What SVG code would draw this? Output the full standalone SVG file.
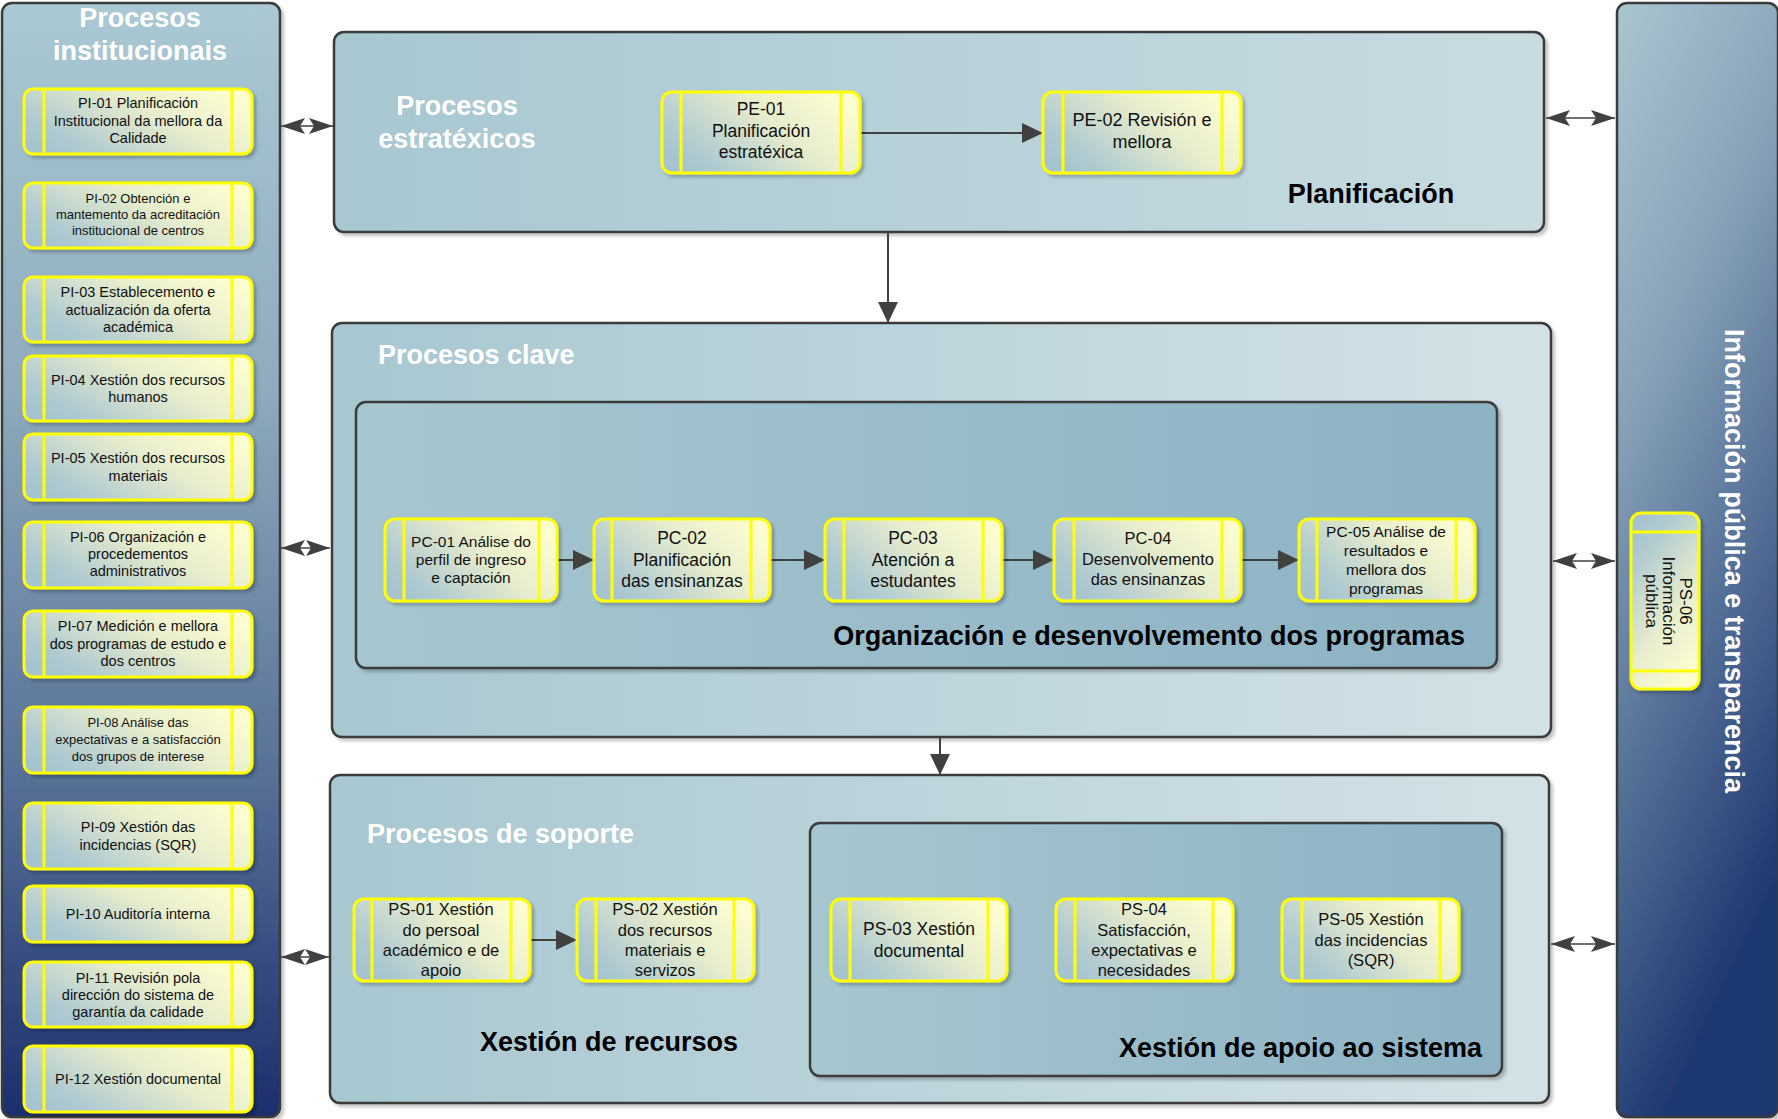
<svg xmlns="http://www.w3.org/2000/svg" width="1778" height="1119" viewBox="0 0 1778 1119">
<defs>
<linearGradient id="gSide" x1="0" y1="0" x2="0" y2="1">
<stop offset="0" stop-color="#abc9d4"/><stop offset="0.35" stop-color="#8eaabc"/><stop offset="0.7" stop-color="#566f96"/><stop offset="1" stop-color="#1c2e6c"/>
</linearGradient>
<linearGradient id="gSideR" x1="0" y1="0" x2="0.3" y2="1">
<stop offset="0" stop-color="#aac6d1"/><stop offset="0.35" stop-color="#88a3b8"/><stop offset="0.7" stop-color="#4f6a93"/><stop offset="1" stop-color="#1e376f"/>
</linearGradient>
<linearGradient id="gBox" x1="0" y1="0" x2="1" y2="0">
<stop offset="0" stop-color="#a8c7d1"/><stop offset="1" stop-color="#c8dbe1"/>
</linearGradient>
<linearGradient id="gBoxL" x1="0" y1="0" x2="1" y2="0">
<stop offset="0" stop-color="#a8c7d1"/><stop offset="1" stop-color="#d3e2e7"/>
</linearGradient>
<linearGradient id="gInner" x1="0" y1="0" x2="1" y2="0">
<stop offset="0" stop-color="#a7c6d0"/><stop offset="1" stop-color="#8cb2c3"/>
</linearGradient>
<linearGradient id="gNode" x1="0" y1="0.75" x2="1" y2="0.25">
<stop offset="0" stop-color="#a6c4cf"/><stop offset="0.15" stop-color="#b0cad1"/><stop offset="0.6" stop-color="#e7edcd"/><stop offset="1" stop-color="#fdfdd0"/>
</linearGradient>
<linearGradient id="gNodeV" x1="0.25" y1="0" x2="0.75" y2="1">
<stop offset="0" stop-color="#a6c4cf"/><stop offset="0.15" stop-color="#b0cad1"/><stop offset="0.6" stop-color="#e7edcd"/><stop offset="1" stop-color="#fdfdd0"/>
</linearGradient>
<filter id="sh" x="-10%" y="-10%" width="130%" height="130%">
<feDropShadow dx="3" dy="3" stdDeviation="1.5" flood-color="#000" flood-opacity="0.22"/>
</filter>
<marker id="ah" markerUnits="userSpaceOnUse" markerWidth="22" markerHeight="20" refX="21" refY="10" orient="auto">
<path d="M0,0 L21,10 L0,20 z" fill="#404040"/>
</marker>
<marker id="dh" markerUnits="userSpaceOnUse" markerWidth="25" markerHeight="16" refX="24" refY="8" orient="auto-start-reverse">
<path d="M0,0 L24,8 L0,16 L5,8 z" fill="#404040"/>
</marker>
<style>
.panel{stroke:#3a3a3a;stroke-width:2.5;filter:url(#sh)}
.node rect{fill:url(#gNode);stroke:#ffff00;stroke-width:3;filter:url(#sh)}
.node line{stroke:#ffff00;stroke-width:3}
text{font-family:"Liberation Sans",Arial,sans-serif}
.nt{fill:#111;text-anchor:middle}
.wh{fill:#fff;font-weight:bold;font-size:27px}
.bk{fill:#000;font-weight:bold;font-size:27px}
.conn line{stroke:#404040;stroke-width:2}
.conn .d{stroke-width:1.6}
</style>
</defs>

<!-- containers -->
<g id="panel-institucionais">
<rect class="panel" x="2" y="3" width="278" height="1114" rx="10" fill="url(#gSide)"/>
<text class="wh" x="140" y="27" text-anchor="middle" font-size="26">Procesos</text>
<text class="wh" x="140" y="60" text-anchor="middle" font-size="26">institucionais</text>
</g>
<g id="panel-estratexicos">
<rect class="panel" x="334" y="32" width="1210" height="200" rx="10" fill="url(#gBox)"/>
<text class="wh" x="457" y="115" text-anchor="middle">Procesos</text>
<text class="wh" x="457" y="148" text-anchor="middle">estratéxicos</text>
<text class="bk" x="1371" y="203" text-anchor="middle">Planificación</text>
</g>
<g id="panel-clave">
<rect class="panel" x="332" y="323" width="1219" height="414" rx="10" fill="url(#gBoxL)"/>
<text class="wh" x="378" y="364">Procesos clave</text>
<rect class="panel" x="356" y="402" width="1141" height="266" rx="10" fill="url(#gInner)"/>
<text class="bk" x="1465" y="645" text-anchor="end">Organización e desenvolvemento dos programas</text>
</g>
<g id="panel-soporte">
<rect class="panel" x="330" y="775" width="1219" height="328" rx="10" fill="url(#gBoxL)"/>
<text class="wh" x="367" y="843">Procesos de soporte</text>
<text class="bk" x="609" y="1051" text-anchor="middle">Xestión de recursos</text>
<rect class="panel" x="810" y="823" width="692" height="253" rx="10" fill="url(#gInner)"/>
<text class="bk" x="1482" y="1057" text-anchor="end">Xestión de apoio ao sistema</text>
</g>
<g id="panel-informacion">
<rect class="panel" x="1617" y="3" width="161" height="1114" rx="10" fill="url(#gSideR)"/>
<text class="wh" x="1725" y="561" text-anchor="middle" font-size="24" textLength="464" transform="rotate(90 1725 561)">Información pública e transparencia</text>
</g>

<!-- connectors -->
<g id="connectors" class="conn">
<line x1="860" y1="133" x2="1043" y2="133" marker-end="url(#ah)"/>
<line x1="888" y1="232" x2="888" y2="323" marker-end="url(#ah)"/>
<line x1="940" y1="737" x2="940" y2="775" marker-end="url(#ah)"/>
<line x1="557" y1="560" x2="594" y2="560" marker-end="url(#ah)"/>
<line x1="770" y1="560" x2="825" y2="560" marker-end="url(#ah)"/>
<line x1="1002" y1="560" x2="1054" y2="560" marker-end="url(#ah)"/>
<line x1="1241" y1="560" x2="1299" y2="560" marker-end="url(#ah)"/>
<line x1="530" y1="940" x2="577" y2="940" marker-end="url(#ah)"/>
<line class="d" x1="281" y1="126" x2="333" y2="126" marker-start="url(#dh)" marker-end="url(#dh)"/>
<line class="d" x1="281" y1="548" x2="330" y2="548" marker-start="url(#dh)" marker-end="url(#dh)"/>
<line class="d" x1="281" y1="957" x2="329" y2="957" marker-start="url(#dh)" marker-end="url(#dh)"/>
<line class="d" x1="1546" y1="118" x2="1615" y2="118" marker-start="url(#dh)" marker-end="url(#dh)"/>
<line class="d" x1="1553" y1="561" x2="1615" y2="561" marker-start="url(#dh)" marker-end="url(#dh)"/>
<line class="d" x1="1551" y1="944" x2="1615" y2="944" marker-start="url(#dh)" marker-end="url(#dh)"/>
</g>

<!-- PI nodes -->
<g id="PI-01" class="node"><rect x="24" y="89" width="228" height="65" rx="9"/><line x1="44" y1="89" x2="44" y2="154"/><line x1="232" y1="89" x2="232" y2="154"/>
<text class="nt" font-size="14.5" x="138"><tspan x="138" y="108">PI-01 Planificación</tspan><tspan x="138" y="126">Institucional da mellora da</tspan><tspan x="138" y="143">Calidade</tspan></text></g>
<g id="PI-02" class="node"><rect x="24" y="183" width="228" height="65" rx="9"/><line x1="44" y1="183" x2="44" y2="248"/><line x1="232" y1="183" x2="232" y2="248"/>
<text class="nt" font-size="13"><tspan x="138" y="203">PI-02 Obtención e</tspan><tspan x="138" y="219">mantemento da acreditación</tspan><tspan x="138" y="235">institucional de centros</tspan></text></g>
<g id="PI-03" class="node"><rect x="24" y="277" width="228" height="65" rx="9"/><line x1="44" y1="277" x2="44" y2="342"/><line x1="232" y1="277" x2="232" y2="342"/>
<text class="nt" font-size="14.5"><tspan x="138" y="297">PI-03 Establecemento e</tspan><tspan x="138" y="315">actualización da oferta</tspan><tspan x="138" y="332">académica</tspan></text></g>
<g id="PI-04" class="node"><rect x="24" y="356" width="228" height="65" rx="9"/><line x1="44" y1="356" x2="44" y2="421"/><line x1="232" y1="356" x2="232" y2="421"/>
<text class="nt" font-size="14.5"><tspan x="138" y="385">PI-04 Xestión dos recursos</tspan><tspan x="138" y="402">humanos</tspan></text></g>
<g id="PI-05" class="node"><rect x="24" y="434" width="228" height="66" rx="9"/><line x1="44" y1="434" x2="44" y2="500"/><line x1="232" y1="434" x2="232" y2="500"/>
<text class="nt" font-size="14.5"><tspan x="138" y="463">PI-05 Xestión dos recursos</tspan><tspan x="138" y="481">materiais</tspan></text></g>
<g id="PI-06" class="node"><rect x="24" y="522" width="228" height="66" rx="9"/><line x1="44" y1="522" x2="44" y2="588"/><line x1="232" y1="522" x2="232" y2="588"/>
<text class="nt" font-size="14.5"><tspan x="138" y="542">PI-06 Organización e</tspan><tspan x="138" y="559">procedementos</tspan><tspan x="138" y="576">administrativos</tspan></text></g>
<g id="PI-07" class="node"><rect x="24" y="611" width="228" height="66" rx="9"/><line x1="44" y1="611" x2="44" y2="677"/><line x1="232" y1="611" x2="232" y2="677"/>
<text class="nt" font-size="14.5"><tspan x="138" y="631">PI-07 Medición e mellora</tspan><tspan x="138" y="649">dos programas de estudo e</tspan><tspan x="138" y="666">dos centros</tspan></text></g>
<g id="PI-08" class="node"><rect x="24" y="707" width="228" height="66" rx="9"/><line x1="44" y1="707" x2="44" y2="773"/><line x1="232" y1="707" x2="232" y2="773"/>
<text class="nt" font-size="13"><tspan x="138" y="727">PI-08 Análise das</tspan><tspan x="138" y="744">expectativas e a satisfacción</tspan><tspan x="138" y="761">dos grupos de interese</tspan></text></g>
<g id="PI-09" class="node"><rect x="24" y="803" width="228" height="66" rx="9"/><line x1="44" y1="803" x2="44" y2="869"/><line x1="232" y1="803" x2="232" y2="869"/>
<text class="nt" font-size="14.5"><tspan x="138" y="832">PI-09 Xestión das</tspan><tspan x="138" y="850">incidencias (SQR)</tspan></text></g>
<g id="PI-10" class="node"><rect x="24" y="886" width="228" height="56" rx="9"/><line x1="44" y1="886" x2="44" y2="942"/><line x1="232" y1="886" x2="232" y2="942"/>
<text class="nt" font-size="14.5" x="138" y="919">PI-10 Auditoría interna</text></g>
<g id="PI-11" class="node"><rect x="24" y="962" width="228" height="65" rx="9"/><line x1="44" y1="962" x2="44" y2="1027"/><line x1="232" y1="962" x2="232" y2="1027"/>
<text class="nt" font-size="14.5"><tspan x="138" y="983">PI-11 Revisión pola</tspan><tspan x="138" y="1000">dirección do sistema de</tspan><tspan x="138" y="1017">garantía da calidade</tspan></text></g>
<g id="PI-12" class="node"><rect x="24" y="1046" width="228" height="66" rx="9"/><line x1="44" y1="1046" x2="44" y2="1112"/><line x1="232" y1="1046" x2="232" y2="1112"/>
<text class="nt" font-size="14.5" x="138" y="1084">PI-12 Xestión documental</text></g>

<!-- PE nodes -->
<g id="PE-01" class="node"><rect x="662" y="92" width="198" height="81" rx="10"/><line x1="681" y1="92" x2="681" y2="173"/><line x1="841" y1="92" x2="841" y2="173"/>
<text class="nt" font-size="17.5"><tspan x="761" y="115">PE-01</tspan><tspan x="761" y="137">Planificación</tspan><tspan x="761" y="158">estratéxica</tspan></text></g>
<g id="PE-02" class="node"><rect x="1043" y="92" width="198" height="81" rx="10"/><line x1="1063" y1="92" x2="1063" y2="173"/><line x1="1222" y1="92" x2="1222" y2="173"/>
<text class="nt" font-size="18"><tspan x="1142" y="126">PE-02 Revisión e</tspan><tspan x="1142" y="148">mellora</tspan></text></g>

<!-- PC nodes -->
<g id="PC-01" class="node"><rect x="385" y="519" width="172" height="82" rx="10"/><line x1="404" y1="519" x2="404" y2="601"/><line x1="539" y1="519" x2="539" y2="601"/>
<text class="nt" font-size="15.5"><tspan x="471" y="547">PC-01 Análise do</tspan><tspan x="471" y="565">perfil de ingreso</tspan><tspan x="471" y="583">e captación</tspan></text></g>
<g id="PC-02" class="node"><rect x="594" y="519" width="176" height="82" rx="10"/><line x1="612" y1="519" x2="612" y2="601"/><line x1="751" y1="519" x2="751" y2="601"/>
<text class="nt" font-size="17.5"><tspan x="682" y="544">PC-02</tspan><tspan x="682" y="566">Planificación</tspan><tspan x="682" y="587">das ensinanzas</tspan></text></g>
<g id="PC-03" class="node"><rect x="825" y="519" width="177" height="82" rx="10"/><line x1="844" y1="519" x2="844" y2="601"/><line x1="983" y1="519" x2="983" y2="601"/>
<text class="nt" font-size="17.5"><tspan x="913" y="544">PC-03</tspan><tspan x="913" y="566">Atención a</tspan><tspan x="913" y="587">estudantes</tspan></text></g>
<g id="PC-04" class="node"><rect x="1054" y="519" width="187" height="82" rx="10"/><line x1="1074" y1="519" x2="1074" y2="601"/><line x1="1222" y1="519" x2="1222" y2="601"/>
<text class="nt" font-size="16.5"><tspan x="1148" y="544">PC-04</tspan><tspan x="1148" y="565">Desenvolvemento</tspan><tspan x="1148" y="585">das ensinanzas</tspan></text></g>
<g id="PC-05" class="node"><rect x="1299" y="519" width="176" height="82" rx="10"/><line x1="1317" y1="519" x2="1317" y2="601"/><line x1="1456" y1="519" x2="1456" y2="601"/>
<text class="nt" font-size="15.5"><tspan x="1386" y="537">PC-05 Análise de</tspan><tspan x="1386" y="556">resultados e</tspan><tspan x="1386" y="575">mellora dos</tspan><tspan x="1386" y="594">programas</tspan></text></g>

<!-- PS nodes -->
<g id="PS-01" class="node"><rect x="354" y="899" width="176" height="82" rx="10"/><line x1="372" y1="899" x2="372" y2="981"/><line x1="511" y1="899" x2="511" y2="981"/>
<text class="nt" font-size="16.5"><tspan x="441" y="915">PS-01 Xestión</tspan><tspan x="441" y="936">do persoal</tspan><tspan x="441" y="956">académico e de</tspan><tspan x="441" y="976">apoio</tspan></text></g>
<g id="PS-02" class="node"><rect x="577" y="899" width="177" height="82" rx="10"/><line x1="596" y1="899" x2="596" y2="981"/><line x1="734" y1="899" x2="734" y2="981"/>
<text class="nt" font-size="16.5"><tspan x="665" y="915">PS-02 Xestión</tspan><tspan x="665" y="936">dos recursos</tspan><tspan x="665" y="956">materiais e</tspan><tspan x="665" y="976">servizos</tspan></text></g>
<g id="PS-03" class="node"><rect x="831" y="899" width="176" height="82" rx="10"/><line x1="850" y1="899" x2="850" y2="981"/><line x1="988" y1="899" x2="988" y2="981"/>
<text class="nt" font-size="17.5"><tspan x="919" y="935">PS-03 Xestión</tspan><tspan x="919" y="957">documental</tspan></text></g>
<g id="PS-04" class="node"><rect x="1056" y="899" width="177" height="82" rx="10"/><line x1="1075" y1="899" x2="1075" y2="981"/><line x1="1213" y1="899" x2="1213" y2="981"/>
<text class="nt" font-size="16.5"><tspan x="1144" y="915">PS-04</tspan><tspan x="1144" y="936">Satisfacción,</tspan><tspan x="1144" y="956">expectativas e</tspan><tspan x="1144" y="976">necesidades</tspan></text></g>
<g id="PS-05" class="node"><rect x="1282" y="899" width="177" height="82" rx="10"/><line x1="1302" y1="899" x2="1302" y2="981"/><line x1="1440" y1="899" x2="1440" y2="981"/>
<text class="nt" font-size="16.5"><tspan x="1371" y="925">PS-05 Xestión</tspan><tspan x="1371" y="946">das incidencias</tspan><tspan x="1371" y="966">(SQR)</tspan></text></g>
<g id="PS-06" class="node"><rect x="1631" y="513" width="68" height="176" rx="10" style="fill:url(#gNodeV)"/><line x1="1631" y1="532" x2="1699" y2="532"/><line x1="1631" y1="671" x2="1699" y2="671"/>
<text class="nt" font-size="17" transform="translate(1665 601) rotate(90)"><tspan x="0" y="-15">PS-06</tspan><tspan x="0" y="2">Información</tspan><tspan x="0" y="19">pública</tspan></text>
</g>
</svg>
